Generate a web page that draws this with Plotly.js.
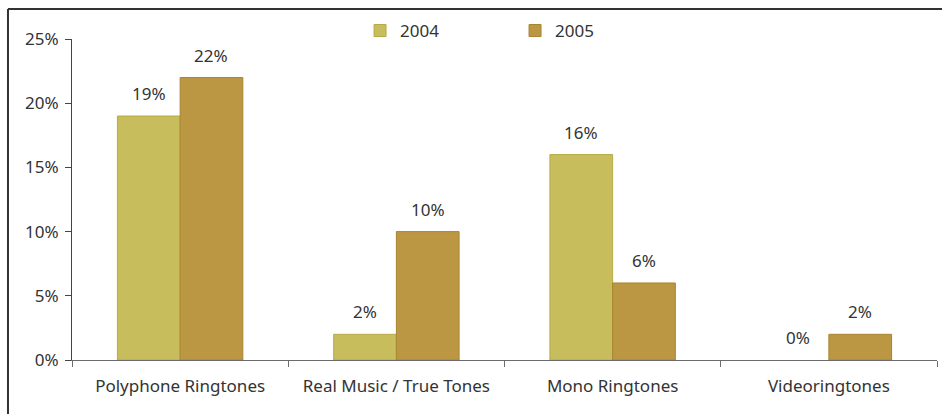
<!DOCTYPE html>
<html>
<head>
<meta charset="utf-8">
<script src="https://cdn.plot.ly/plotly-3.0.1.min.js"></script>
<style>
  html, body { margin: 0; padding: 0; background: #ffffff; }
  #chart { width: 942px; height: 414px; }
</style>
</head>
<body>
<div id="chart"></div>
<script>
const categories = ["Polyphone Ringtones", "Real Music / True Tones", "Mono Ringtones", "Videoringtones"];
const values2004 = [19, 2, 16, 0];
const values2005 = [22, 10, 6, 2];
const seriesNames = ["2004", "2005"];
const yTickVals = [0, 5, 10, 15, 20, 25];

const FONT = "Noto Sans, Open Sans, sans-serif";
const FS = 17;
const TEXTC = "#333333";
const BARGAP = 0.42;
const half = (1 - BARGAP) / 4;

const traces = [
  {
    type: "bar", name: seriesNames[0], x: categories, y: values2004,
    marker: { color: "#C8BD5D", line: { color: "#B6AA45", width: values2004.map(v => v > 0 ? 1 : 0) } },
    hoverinfo: "skip"
  },
  {
    type: "bar", name: seriesNames[1], x: categories, y: values2005,
    marker: { color: "#BC9743", line: { color: "#A9842F", width: values2005.map(v => v > 0 ? 1 : 0) } },
    hoverinfo: "skip"
  }
];

const annotations = [];
[values2004, values2005].forEach((vals, s) => {
  vals.forEach((v, i) => {
    annotations.push({
      x: i + (s === 0 ? -half : half), y: v, xref: "x", yref: "y",
      text: v + "%", showarrow: false, yanchor: "bottom", yshift: 9,
      font: { family: FONT, size: FS, color: TEXTC }
    });
  });
});

const layout = {
  width: 942, height: 414,
  margin: { l: 72, r: 5, t: 39, b: 54 },
  paper_bgcolor: "#ffffff", plot_bgcolor: "#ffffff",
  barmode: "group", bargap: BARGAP, bargroupgap: 0,
  font: { family: FONT, size: FS, color: TEXTC },
  showlegend: true,
  legend: {
    orientation: "h", x: 0.333, xanchor: "left", y: 1.025, yanchor: "middle",
    entrywidth: 110, entrywidthmode: "pixels",
    font: { family: FONT, size: FS, color: TEXTC },
    bgcolor: "rgba(0,0,0,0)", itemclick: false, itemdoubleclick: false
  },
  xaxis: {
    type: "category", showgrid: false, zeroline: false,
    showline: true, linecolor: "#6b6b6b", linewidth: 1,
    ticks: "outside", tickson: "boundaries", ticklen: 6, tickcolor: "#6b6b6b",
    ticklabelstandoff: 11,
    tickfont: { family: FONT, size: FS, color: TEXTC }, fixedrange: true
  },
  yaxis: {
    range: [0, 25], tickvals: yTickVals, ticktext: yTickVals.map(v => v + "%"),
    showgrid: false, zeroline: false,
    showline: true, linecolor: "#444444", linewidth: 1,
    ticks: "outside", ticklen: 6, tickcolor: "#444444",
    ticklabelstandoff: 3,
    tickfont: { family: FONT, size: FS, color: TEXTC }, fixedrange: true
  },
  annotations: annotations,
  shapes: [
    { type: "line", xref: "paper", yref: "paper", x0: -0.074, x1: 1.2, y0: 1.0935, y1: 1.0935,
      line: { color: "#333333", width: 2 } },
    { type: "line", xref: "paper", yref: "paper", x0: -0.074, x1: -0.074, y0: 1.0935, y1: -0.3,
      line: { color: "#333333", width: 2 } }
  ]
};

Plotly.newPlot("chart", traces, layout, { displayModeBar: false, staticPlot: true });
</script>
</body>
</html>
